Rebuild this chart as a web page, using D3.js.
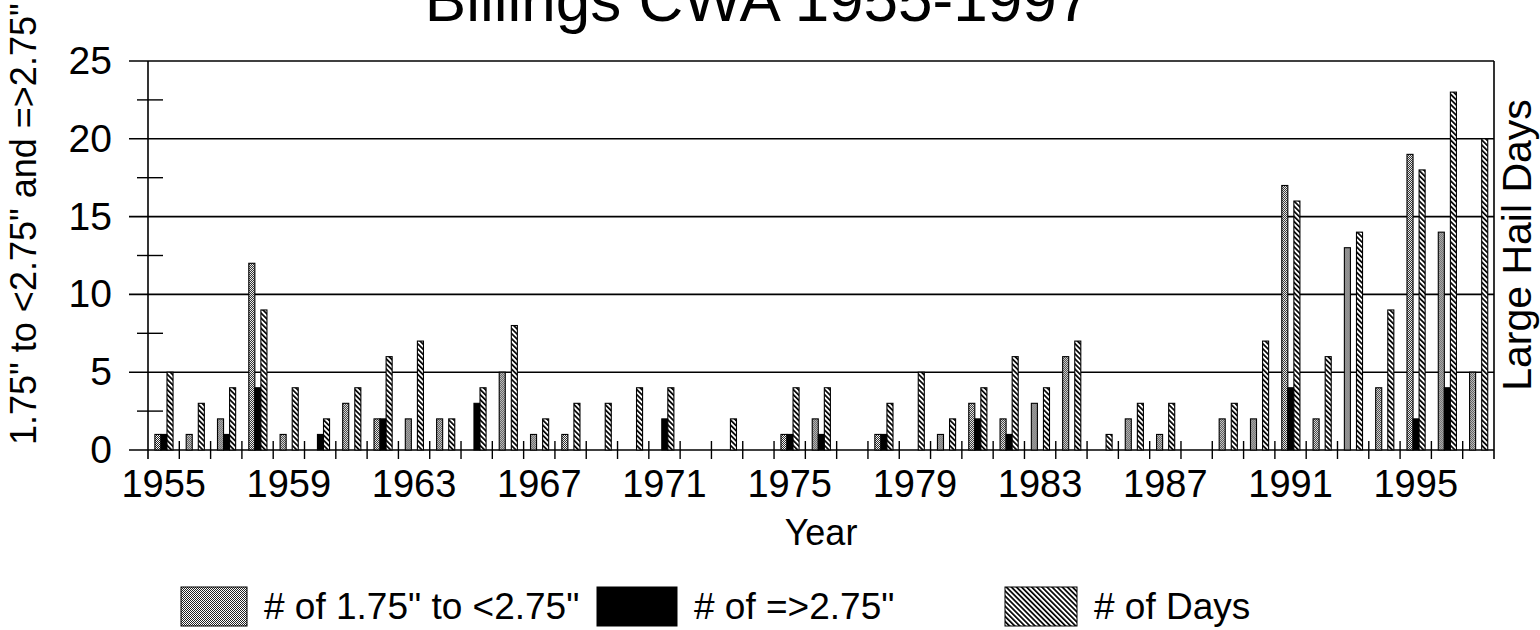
<!DOCTYPE html>
<html>
<head>
<meta charset="utf-8">
<script src="https://cdn.jsdelivr.net/npm/d3@7"></script>
<style>
  body { margin: 0; background: #fff; }
  svg { display: block; font-family: "Liberation Sans", Arial, Helvetica, sans-serif; }
</style>
</head>
<body>
<svg id="chart" width="1540" height="630"></svg>
<script>
// data
var years = [1955, 1956, 1957, 1958, 1959, 1960, 1961, 1962, 1963, 1964,
             1965, 1966, 1967, 1968, 1969, 1970, 1971, 1972, 1973, 1974,
             1975, 1976, 1977, 1978, 1979, 1980, 1981, 1982, 1983, 1984,
             1985, 1986, 1987, 1988, 1989, 1990, 1991, 1992, 1993, 1994,
             1995, 1996, 1997];
var smallHail = [1, 1, 2, 12, 1, 0, 3, 2, 2, 2,
                 0, 5, 1, 1, 0, 0, 0, 0, 0, 0,
                 1, 2, 0, 1, 0, 1, 3, 2, 3, 6,
                 0, 2, 1, 0, 2, 2, 17, 2, 13, 4,
                 19, 14, 5];
var largeHail = [1, 0, 1, 4, 0, 1, 0, 2, 0, 0,
                 3, 0, 0, 0, 0, 0, 2, 0, 0, 0,
                 1, 1, 0, 1, 0, 0, 2, 1, 0, 0,
                 0, 0, 0, 0, 0, 0, 4, 0, 0, 0,
                 2, 4, 0];
var hailDays = [5, 3, 4, 9, 4, 2, 4, 6, 7, 2,
                4, 8, 2, 3, 3, 4, 4, 0, 2, 0,
                4, 4, 0, 3, 5, 2, 4, 6, 4, 7,
                1, 3, 3, 0, 3, 7, 16, 6, 14, 9,
                18, 23, 20];
var yearLabels = [1955, 1959, 1963, 1967, 1971, 1975, 1979, 1983, 1987, 1991, 1995];
var yTicks = [0, 5, 10, 15, 20, 25];
var minorTicks = [2.5, 7.5, 12.5, 17.5, 22.5];
var seriesNames = ["# of 1.75\" to <2.75\"", "# of =>2.75\"", "# of Days"];
var seriesFills = ["url(#dots)", "#000", "url(#hatch)"];

var margin = {top: 61, right: 46, bottom: 180, left: 148};
var width = 1540 - margin.left - margin.right,
    height = 630 - margin.top - margin.bottom;

var svg = d3.select("#chart");

// fill patterns like the old printout
var defs = svg.append("defs");
var dots = defs.append("pattern")
    .attr("id", "dots")
    .attr("patternUnits", "userSpaceOnUse")
    .attr("width", 2).attr("height", 2);
dots.append("rect").attr("width", 2).attr("height", 2).attr("fill", "#fff");
dots.append("rect").attr("width", 1).attr("height", 1).attr("fill", "#222");
dots.append("rect").attr("x", 1).attr("y", 1).attr("width", 1).attr("height", 1).attr("fill", "#222");

var hatch = defs.append("pattern")
    .attr("id", "hatch")
    .attr("patternUnits", "userSpaceOnUse")
    .attr("width", 3.6).attr("height", 3.6)
    .attr("patternTransform", "rotate(-45)");
hatch.append("rect").attr("width", 3.6).attr("height", 3.6).attr("fill", "#fff");
hatch.append("rect").attr("width", 1.7).attr("height", 3.6).attr("fill", "#000");

var g = svg.append("g")
    .attr("transform", "translate(" + margin.left + "," + margin.top + ")");

var xScale = d3.scaleBand().domain(years).range([0, width]);
var bw = xScale.bandwidth();
var subScale = d3.scaleBand().domain([0, 1, 2]).range([bw * 0.22, bw * 0.8]);
var yScale = d3.scaleLinear().domain([0, 25]).range([height, 0]);

// gridlines
g.selectAll(".grid")
    .data(yTicks)
    .enter().append("line")
    .attr("x1", -19).attr("x2", width)
    .attr("y1", function(d) { return yScale(d); })
    .attr("y2", function(d) { return yScale(d); })
    .attr("stroke", "#000").attr("stroke-width", 1.6);

// minor ticks on the left axis
g.selectAll(".minor")
    .data(minorTicks)
    .enter().append("line")
    .attr("x1", -11).attr("x2", 15)
    .attr("y1", function(d) { return yScale(d); })
    .attr("y2", function(d) { return yScale(d); })
    .attr("stroke", "#000").attr("stroke-width", 1.4);

// axes frame
g.append("line").attr("x1", 0).attr("x2", 0).attr("y1", 0).attr("y2", height + 9)
    .attr("stroke", "#000").attr("stroke-width", 1.6);
g.append("line").attr("x1", width).attr("x2", width).attr("y1", 0).attr("y2", height + 9)
    .attr("stroke", "#000").attr("stroke-width", 1.6);

// year separators
g.selectAll(".sep")
    .data(years.slice(1))
    .enter().append("line")
    .attr("x1", function(d) { return xScale(d); })
    .attr("x2", function(d) { return xScale(d); })
    .attr("y1", height - 9).attr("y2", height + 9)
    .attr("stroke", "#000").attr("stroke-width", 1.4);

// bars
var rows = years.map(function(y, i) {
    return {year: y, values: [smallHail[i], largeHail[i], hailDays[i]]};
});

var yearG = g.selectAll(".year")
    .data(rows)
    .enter().append("g")
    .attr("transform", function(d) { return "translate(" + xScale(d.year) + ",0)"; });

yearG.selectAll("rect")
    .data(function(d) { return d.values.map(function(v, k) { return {k: k, v: v}; }); })
    .enter().append("rect")
    .filter(function(d) { return d.v > 0; })
    .attr("x", function(d) { return subScale(d.k); })
    .attr("width", subScale.bandwidth())
    .attr("y", function(d) { return yScale(d.v); })
    .attr("height", function(d) { return height - yScale(d.v); })
    .attr("fill", function(d) { return seriesFills[d.k]; })
    .attr("stroke", "#000")
    .attr("stroke-width", 1.1);

// axis labels
var xAxis = d3.axisBottom(xScale)
    .tickValues(yearLabels)
    .tickSize(0)
    .tickFormat(d3.format("d"));

g.append("g")
    .attr("class", "x axis")
    .attr("transform", "translate(0," + height + ")")
    .call(xAxis)
    .call(function(a) { a.select(".domain").remove(); })
    .selectAll("text")
    .attr("y", 20)
    .attr("dy", "0.71em")
    .attr("fill", "#000")
    .style("font-size", "38px");

var yAxis = d3.axisLeft(yScale).tickValues(yTicks).tickSize(0).tickPadding(36);
g.append("g")
    .attr("class", "y axis")
    .call(yAxis)
    .call(function(a) { a.select(".domain").remove(); })
    .selectAll("text")
    .attr("fill", "#000")
    .style("font-size", "39px");

g.selectAll(".tick line").remove();

// titles
svg.append("text")
    .attr("x", 758).attr("y", 21)
    .attr("text-anchor", "middle")
    .style("font-size", "62px")
    .text("Billings CWA 1955-1997");

svg.append("text")
    .attr("x", margin.left + width / 2).attr("y", 545)
    .attr("text-anchor", "middle")
    .style("font-size", "36px")
    .text("Year");

svg.append("text")
    .attr("transform", "translate(36,445) rotate(-90)")
    .style("font-size", "36px")
    .text("1.75\" to <2.75\" and =>2.75\"");

svg.append("text")
    .attr("transform", "translate(1531,245) rotate(-90)")
    .attr("text-anchor", "middle")
    .style("font-size", "41px")
    .text("Large Hail Days");

// legend
var legendLayout = [{x: 181, w: 66}, {x: 597, w: 80}, {x: 1005, w: 72}];
var legend = svg.selectAll(".legend")
    .data(seriesNames)
    .enter().append("g")
    .attr("transform", function(d, i) { return "translate(" + legendLayout[i].x + ",587)"; });

legend.append("rect")
    .attr("width", function(d, i) { return legendLayout[i].w; })
    .attr("height", 39)
    .attr("fill", function(d, i) { return seriesFills[i]; })
    .attr("stroke", "#000")
    .attr("stroke-width", 1);

legend.append("text")
    .attr("x", function(d, i) { return legendLayout[i].w + 17; })
    .attr("y", 32)
    .style("font-size", "37px")
    .text(function(d) { return d; });
</script>
</body>
</html>
